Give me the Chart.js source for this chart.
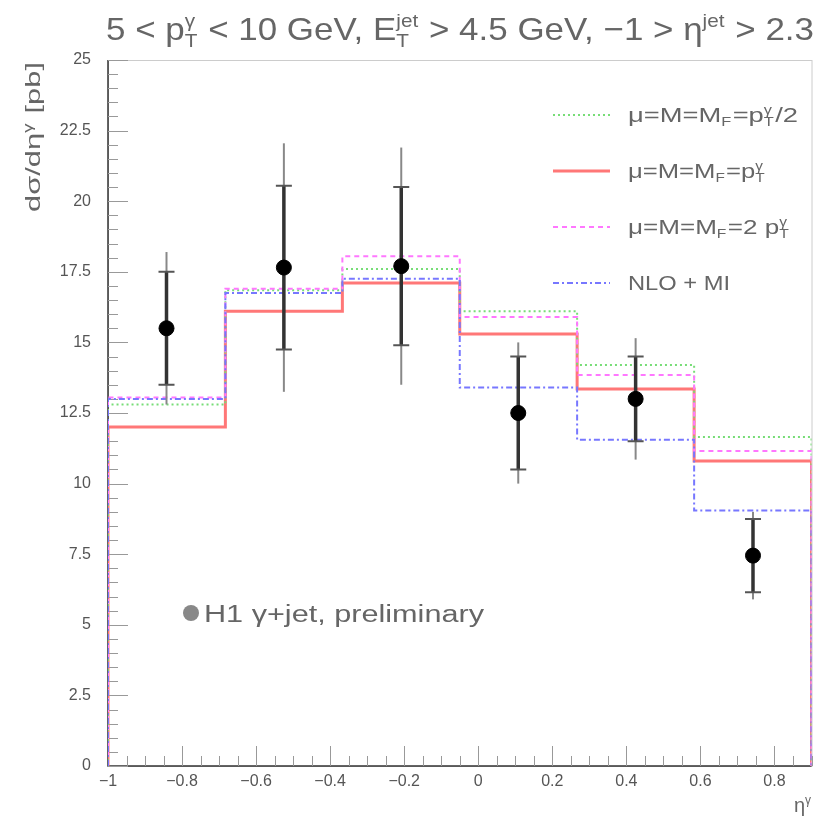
<!DOCTYPE html>
<html>
<head>
<meta charset="utf-8">
<script src="https://cdn.jsdelivr.net/npm/chart.js@4.4.0/dist/chart.umd.min.js"></script>
<style>
  html, body { margin: 0; padding: 0; background: #fff; }
  #wrap { width: 820px; height: 823px; }
</style>
</head>
<body>
<div id="wrap"><canvas id="xsecChart"></canvas></div>
<script>
// bins in eta^gamma and measured cross sections
const binEdges = [-1, -0.683, -0.367, -0.05, 0.267, 0.583, 0.9];
const etaData = [-0.842, -0.525, -0.208, 0.108, 0.425, 0.742];
const xsecData = [15.5, 17.65, 17.7, 12.5, 13.0, 7.45];
const statErr = [2.0, 2.9, 2.8, 2.0, 1.5, 1.3];
const totalErr = [2.7, 4.4, 4.2, 2.5, 2.15, 1.55];

// theory predictions per bin
const scaleHalf = [12.8, 16.85, 17.6, 16.1, 14.2, 11.65];
const scaleOne = [12.0, 16.1, 17.1, 15.3, 13.35, 10.8];
const scaleTwo = [13.05, 16.9, 18.05, 15.9, 13.85, 11.15];
const nloMI = [13.0, 16.75, 17.25, 13.4, 11.55, 9.05];

const xTicks = [-1, -0.8, -0.6, -0.4, -0.2, 0, 0.2, 0.4, 0.6, 0.8];
const yTicks = [0, 2.5, 5, 7.5, 10, 12.5, 15, 17.5, 20, 22.5, 25];

const FONT = "'Liberation Sans', Arial, sans-serif";
const GREY = "#666";

// turn per-bin values into histogram outline points
function stepPoints(values) {
  const pts = [{ x: binEdges[0], y: 0 }];
  values.forEach((v, i) => {
    pts.push({ x: binEdges[i], y: v });
    pts.push({ x: binEdges[i + 1], y: v });
  });
  pts.push({ x: binEdges[binEdges.length - 1], y: 0 });
  return pts;
}

// draw text with sub/superscripts; parts: strings or {sub, sup}
// fitWidth stretches the whole line horizontally to that width
function drawRich(ctx, parts, x, y, size, align, fitWidth) {
  const small = Math.round(size * 0.6);
  const widths = parts.map(p => {
    if (typeof p === "string") { ctx.font = size + "px " + FONT; return ctx.measureText(p).width; }
    ctx.font = small + "px " + FONT;
    return Math.max(p.sub ? ctx.measureText(p.sub).width : 0, p.sup ? ctx.measureText(p.sup).width : 0) + 1;
  });
  const total = widths.reduce((a, b) => a + b, 0);
  const k = fitWidth ? fitWidth / total : 1;
  const w = total * k;
  const x0 = align === "right" ? x - w : align === "center" ? x - w / 2 : x;
  ctx.save();
  ctx.translate(x0, y);
  ctx.scale(k, 1);
  ctx.textAlign = "left";
  ctx.textBaseline = "alphabetic";
  let cx = 0;
  parts.forEach((p, i) => {
    if (typeof p === "string") {
      ctx.font = size + "px " + FONT;
      ctx.fillText(p, cx, 0);
    } else {
      ctx.font = small + "px " + FONT;
      if (p.sub) ctx.fillText(p.sub, cx, size * 0.22);
      if (p.sup) ctx.fillText(p.sup, cx, -size * 0.42);
    }
    cx += widths[i];
  });
  ctx.restore();
}

const framePlugin = {
  id: "frame",
  beforeDatasetsDraw(chart) {
    const { ctx, chartArea: a, scales } = chart;
    ctx.save();
    // frame
    ctx.strokeStyle = "#ccc";
    ctx.lineWidth = 1;
    ctx.strokeRect(a.left + 0.5, a.top + 0.5, a.right - a.left, a.bottom - a.top);
    ctx.strokeStyle = "#333";
    ctx.lineWidth = 1.5;
    ctx.beginPath();
    ctx.moveTo(a.left, a.top);
    ctx.lineTo(a.left, a.bottom);
    ctx.lineTo(a.right, a.bottom);
    ctx.stroke();
    // inward ticks
    ctx.strokeStyle = "#999";
    ctx.lineWidth = 1;
    ctx.beginPath();
    for (let v = 0; v <= 25.001; v += 0.5) {
      const py = Math.round(scales.y.getPixelForValue(v)) + 0.5;
      const len = Math.abs(v / 2.5 - Math.round(v / 2.5)) < 1e-6 ? 20 : 10;
      ctx.moveTo(a.left, py);
      ctx.lineTo(a.left + len, py);
    }
    for (let v = -1; v <= 0.9001; v += 0.05) {
      const px = Math.round(scales.x.getPixelForValue(v)) + 0.5;
      const len = Math.abs(v / 0.2 - Math.round(v / 0.2)) < 1e-6 ? 20 : 10;
      ctx.moveTo(px, a.bottom);
      ctx.lineTo(px, a.bottom - len);
    }
    ctx.stroke();
    ctx.restore();
  },
  beforeDatasetDraw(chart, args) {
    if (args.index !== 0) return;
    const { ctx, scales } = chart;
    ctx.save();
    etaData.forEach((eta, i) => {
      const px = scales.x.getPixelForValue(eta);
      const yTop = scales.y.getPixelForValue(xsecData[i] + totalErr[i]);
      const yBot = scales.y.getPixelForValue(xsecData[i] - totalErr[i]);
      const sTop = scales.y.getPixelForValue(xsecData[i] + statErr[i]);
      const sBot = scales.y.getPixelForValue(xsecData[i] - statErr[i]);
      ctx.strokeStyle = "#888";
      ctx.lineWidth = 2;
      ctx.beginPath();
      ctx.moveTo(px, yTop);
      ctx.lineTo(px, yBot);
      ctx.stroke();
      ctx.strokeStyle = "#333";
      ctx.lineWidth = 3.5;
      ctx.beginPath();
      ctx.moveTo(px, sTop);
      ctx.lineTo(px, sBot);
      ctx.stroke();
      ctx.strokeStyle = "#555";
      ctx.lineWidth = 2;
      ctx.beginPath();
      ctx.moveTo(px - 8, sTop);
      ctx.lineTo(px + 8, sTop);
      ctx.moveTo(px - 8, sBot);
      ctx.lineTo(px + 8, sBot);
      ctx.stroke();
    });
    ctx.restore();
  },
  afterDraw(chart) {
    const { ctx } = chart;
    ctx.save();
    ctx.fillStyle = GREY;
    // title
    drawRich(ctx, ["5 < p", { sub: "T", sup: "γ" }, " < 10 GeV, E", { sub: "T", sup: "jet" },
      " > 4.5 GeV, −1 > η", { sup: "jet" }, " > 2.3"], 106, 40, 32, "left", 708);
    // y title (rotated)
    ctx.save();
    ctx.translate(40, 62);
    ctx.rotate(-Math.PI / 2);
    drawRich(ctx, ["dσ/dη", { sup: "γ" }, " [pb]"], 0, 0, 20, "right", 150);
    ctx.restore();
    // x title
    drawRich(ctx, ["η", { sup: "γ" }], 812, 812, 20, "right");
    // legend
    const entries = [
      { label: ["μ=M=M", { sub: "F" }, "=p", { sub: "T", sup: "γ" }, "/2"], fit: 170, color: "#77dd77", width: 2, dash: [2, 3] },
      { label: ["μ=M=M", { sub: "F" }, "=p", { sub: "T", sup: "γ" }], fit: 138, color: "#ff7777", width: 3, dash: [] },
      { label: ["μ=M=M", { sub: "F" }, "=2 p", { sub: "T", sup: "γ" }], fit: 162, color: "#ff77ff", width: 2, dash: [5, 4] },
      { label: ["NLO + MI"], fit: 102, color: "#7777ff", width: 2, dash: [6, 3, 2, 3] }
    ];
    entries.forEach((e, i) => {
      const ly = 115 + i * 56;
      ctx.strokeStyle = e.color;
      ctx.lineWidth = e.width;
      ctx.setLineDash(e.dash);
      ctx.beginPath();
      ctx.moveTo(553, ly);
      ctx.lineTo(610, ly);
      ctx.stroke();
      ctx.setLineDash([]);
      ctx.fillStyle = GREY;
      drawRich(ctx, e.label, 628, ly + 7, 20, "left", e.fit);
    });
    // data label
    ctx.fillStyle = "#888";
    ctx.beginPath();
    ctx.arc(191, 613, 8, 0, Math.PI * 2);
    ctx.fill();
    ctx.fillStyle = GREY;
    drawRich(ctx, ["H1 γ+jet, preliminary"], 204, 622, 23, "left", 280);
    ctx.restore();
  }
};

function histo(values, color, width, dash) {
  return {
    data: stepPoints(values),
    showLine: true,
    borderColor: color,
    borderWidth: width,
    borderDash: dash,
    pointRadius: 0,
    tension: 0,
    fill: false
  };
}

const ctx = document.getElementById("xsecChart").getContext("2d");
new Chart(ctx, {
  type: "scatter",
  data: {
    datasets: [
      {
        data: etaData.map((x, i) => ({ x: x, y: xsecData[i] })),
        backgroundColor: "#000",
        borderColor: "#000",
        pointRadius: 7.5,
        showLine: false
      },
      histo(nloMI, "#7777ff", 2, [6, 3, 2, 3]),
      histo(scaleTwo, "#ff77ff", 2, [5, 4]),
      histo(scaleHalf, "#77dd77", 2, [2, 3]),
      histo(scaleOne, "#ff7777", 3, [])
    ]
  },
  options: {
    responsive: true,
    maintainAspectRatio: false,
    animation: false,
    layout: { padding: { left: 0, right: 5, top: 60, bottom: 0 } },
    plugins: { legend: { display: false }, tooltip: { enabled: false } },
    scales: {
      x: {
        type: "linear",
        min: -1,
        max: 0.9,
        grid: { display: false, drawTicks: false },
        border: { display: false },
        afterBuildTicks: s => { s.ticks = xTicks.map(v => ({ value: v })); },
        afterFit: s => { s.height = 57; },
        ticks: {
          color: "#555",
          font: { family: FONT, size: 16 },
          padding: 6,
          maxRotation: 0,
          callback: v => String(Math.round(v * 10) / 10).replace("-", "−")
        }
      },
      y: {
        type: "linear",
        min: 0,
        max: 25,
        grid: { display: false, drawTicks: false },
        border: { display: false },
        afterBuildTicks: s => { s.ticks = yTicks.map(v => ({ value: v })); },
        afterFit: s => { s.width = 108; },
        ticks: {
          color: "#555",
          font: { family: FONT, size: 16 },
          padding: 17
        }
      }
    }
  },
  plugins: [framePlugin]
});
</script>
</body>
</html>
